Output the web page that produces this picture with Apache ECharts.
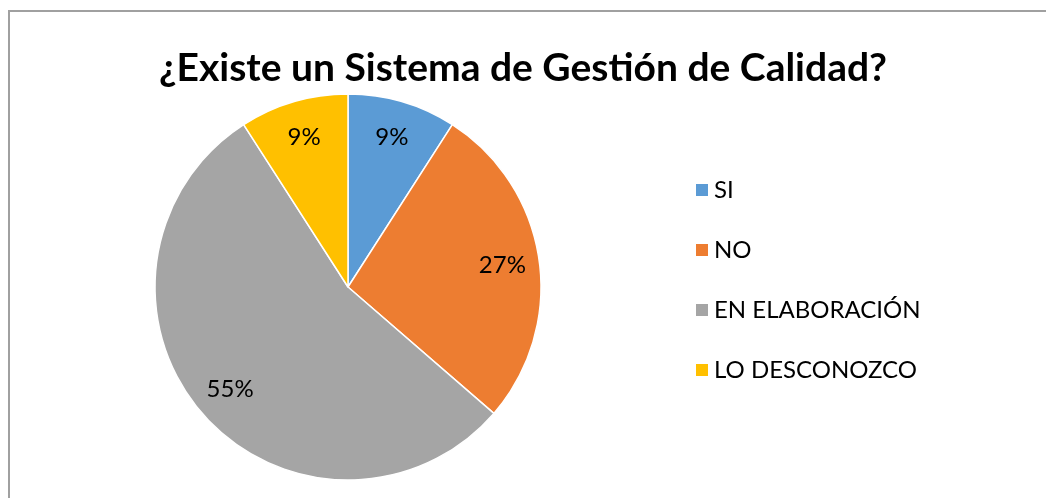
<!DOCTYPE html>
<html>
<head>
<meta charset="utf-8">
<script src="https://cdn.jsdelivr.net/npm/echarts@6/dist/echarts.min.js"></script>
<style>
  html, body { margin: 0; padding: 0; background: #fff; }
  #main { width: 1046px; height: 498px; }
</style>
</head>
<body>
<div id="main"></div>
<script>
var titleText = '¿Existe un Sistema de Gestión de Calidad?';
var categories = ['SI', 'NO', 'EN ELABORACIÓN', 'LO DESCONOZCO'];
var counts = [1, 3, 6, 1];
var colors = ['#5B9BD5', '#ED7D31', '#A5A5A5', '#FFC000'];

var font = 'Lato, "Open Sans", sans-serif';
var pieData = categories.map(function (c, i) {
  return { name: c, value: counts[i], itemStyle: { color: colors[i] } };
});
var labelData = categories.map(function (c, i) {
  return { name: c, value: counts[i] };
});

var chart = echarts.init(document.getElementById('main'));
chart.setOption({
  animation: false,
  title: {
    text: titleText,
    left: 'center',
    top: 44,
    textStyle: { fontFamily: font, fontSize: 39, fontWeight: 'bold', color: '#000' }
  },
  graphic: [{
    type: 'rect',
    shape: { x: 9, y: 11, width: 1100, height: 600 },
    style: { fill: 'none', stroke: '#a0a0a0', lineWidth: 2 },
    silent: true
  }],
  legend: {
    orient: 'vertical',
    left: 689,
    top: 173,
    itemWidth: 14,
    itemHeight: 14,
    itemGap: 36,
    icon: 'rect',
    data: categories,
    textStyle: { fontFamily: font, fontSize: 24, color: '#000' }
  },
  series: [{
    type: 'pie',
    center: [348, 287],
    radius: 193,
    startAngle: 90,
    clockwise: true,
    data: pieData,
    label: { show: false },
    labelLine: { show: false },
    itemStyle: { borderColor: '#fff', borderWidth: 1.5 },
    emphasis: { disabled: true }
  }, {
    type: 'pie',
    center: [348, 287],
    radius: [113, 193],
    startAngle: 90,
    clockwise: true,
    silent: true,
    legendHoverLink: false,
    data: labelData,
    itemStyle: { color: 'rgba(0,0,0,0)', borderWidth: 0 },
    label: {
      show: true,
      position: 'inside',
      fontFamily: font,
      fontSize: 24,
      color: '#000',
      formatter: function (p) { return Math.round(p.percent) + '%'; }
    },
    labelLine: { show: false },
    emphasis: { disabled: true }
  }]
});
</script>
</body>
</html>
